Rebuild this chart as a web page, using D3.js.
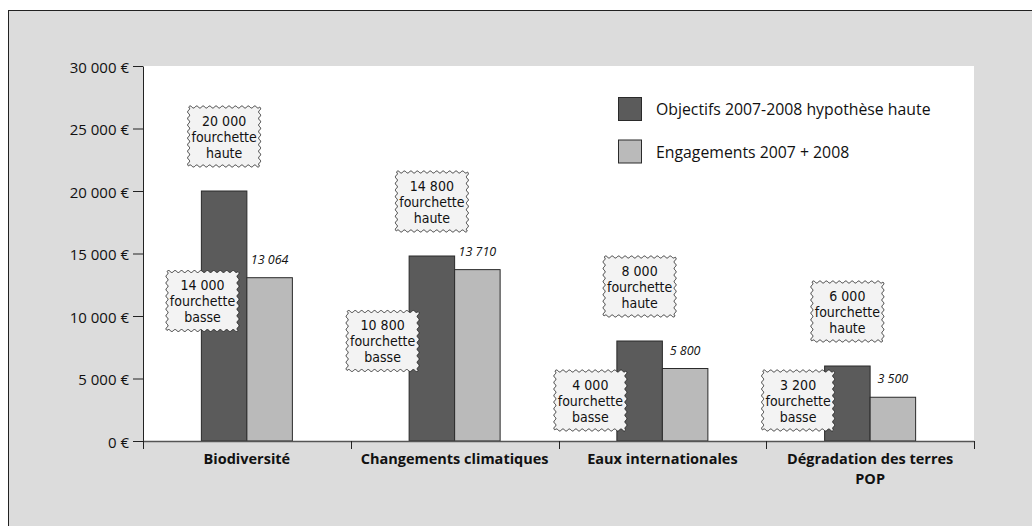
<!DOCTYPE html>
<html>
<head>
<meta charset="utf-8">
<script src="https://cdn.jsdelivr.net/npm/d3@7"></script>
<style>
  html, body { margin: 0; padding: 0; background: #ffffff; }
  svg { display: block; }
</style>
</head>
<body>
<svg id="chart" width="1032" height="526"></svg>
<script>
// ---- data ----
const categories = ["Biodiversité", "Changements climatiques", "Eaux internationales", "Dégradation des terres POP"];
const categoryLines = [["Biodiversité"], ["Changements climatiques"], ["Eaux internationales"], ["Dégradation des terres", "POP"]];
const series = ["Objectifs 2007-2008 hypothèse haute", "Engagements 2007 + 2008"];
const objectifs = [20000, 14800, 8000, 6000];          // fourchette haute
const engagements = [13064, 13710, 5800, 3500];
const fourchetteBasse = [14000, 10800, 4000, 3200];
const yTicks = [0, 5000, 10000, 15000, 20000, 25000, 30000];

// ---- layout ----
const W = 1032, H = 526;
const plot = { left: 143, right: 974, top: 66, bottom: 441 };
const colors = ["#5b5b5b", "#bababa"];
const FONT = "'Open Sans', 'Noto Sans', sans-serif";
const NARROW = "'Liberation Sans Narrow', 'DejaVu Sans Condensed', sans-serif";

const svg = d3.select("#chart");

const loc = d3.formatLocale({ decimal: ",", thousands: "\u00a0", grouping: [3], currency: ["", "\u00a0€"] });
const fmtNum = loc.format(",");
const fmtEur = v => fmtNum(v) + "\u00a0€";

// outer frame
svg.append("rect").attr("x", 8.5).attr("y", 10.5).attr("width", W).attr("height", H)
  .attr("fill", "#dcdcdc").attr("stroke", "#222").attr("stroke-width", 1);

// plot background
svg.append("rect").attr("x", plot.left).attr("y", plot.top)
  .attr("width", plot.right - plot.left).attr("height", plot.bottom - plot.top)
  .attr("fill", "#ffffff");

const y = d3.scaleLinear().domain([0, 30000]).range([plot.bottom, plot.top]);
const x0 = d3.scaleBand().domain(categories).range([plot.left, plot.right]).padding(0);
const barW = 45.5;
const x1 = d3.scaleBand().domain(series)
  .range([x0.bandwidth() / 2 - barW, x0.bandwidth() / 2 + barW]).padding(0);

const valuesBySeries = [objectifs, engagements];

// bars
const g = svg.append("g");
categories.forEach((c, i) => {
  series.forEach((s, j) => {
    const v = valuesBySeries[j][i];
    g.append("rect")
      .attr("x", x0(c) + x1(s))
      .attr("y", y(v))
      .attr("width", x1.bandwidth())
      .attr("height", y(0) - y(v))
      .attr("fill", colors[j])
      .attr("stroke", "#2a2a2a")
      .attr("stroke-width", 1);
  });
});

// axes
const yAxis = d3.axisLeft(y).tickValues(yTicks).tickSize(10).tickSizeOuter(0).tickFormat(fmtEur);
const yg = svg.append("g").attr("transform", `translate(${plot.left},0)`).call(yAxis);
yg.selectAll("path.domain").attr("stroke", "#222");
yg.selectAll(".tick line").attr("stroke", "#222");
yg.selectAll(".tick text").attr("font-family", FONT).attr("font-size", 15).attr("fill", "#111").attr("dx", -1).attr("dy", "0.4em");

// x axis line
svg.append("line").attr("x1", plot.left).attr("x2", plot.right)
  .attr("y1", y(0) + 0.5).attr("y2", y(0) + 0.5).attr("stroke", "#555").attr("stroke-width", 1.5);
// y axis extension below baseline and boundary ticks
const boundaries = categories.map(c => x0(c)).concat([x0(categories[categories.length - 1]) + x0.bandwidth()]);
boundaries.forEach(bx => {
  svg.append("line").attr("x1", Math.round(bx) + 0.5).attr("x2", Math.round(bx) + 0.5)
    .attr("y1", y(0)).attr("y2", y(0) + 8).attr("stroke", "#222");
});

// category labels
categories.forEach((c, i) => {
  const t = svg.append("text")
    .attr("x", x0(c) + x0.bandwidth() / 2)
    .attr("y", y(0) + 23)
    .attr("text-anchor", "middle")
    .attr("font-family", FONT).attr("font-weight", "bold").attr("font-size", 14.5).attr("fill", "#111");
  categoryLines[i].forEach((line, k) => {
    t.append("tspan").attr("x", x0(c) + x0.bandwidth() / 2).attr("dy", k === 0 ? 0 : 20).text(line);
  });
});

// value labels on light bars
categories.forEach((c, i) => {
  svg.append("text")
    .attr("x", x0(c) + x1(series[1]) + x1.bandwidth() / 2)
    .attr("y", y(engagements[i]) - 14)
    .attr("text-anchor", "middle")
    .attr("font-family", FONT).attr("font-style", "italic").attr("font-size", 12.5).attr("fill", "#111")
    .text(fmtNum(engagements[i]));
});

// wavy callout box path
function wavyRect(x, yy, w, h) {
  const amp = 1.0, wl = 6.5, step = 0.5;
  const pts = [];
  const edge = (ax, ay, bx, by, nx, ny) => {
    const len = Math.hypot(bx - ax, by - ay);
    const n = Math.max(1, Math.round(len / wl));
    const wavel = len / n;
    for (let t = 0; t < len; t += step) {
      const f = t / len;
      const o = amp * Math.sin(2 * Math.PI * t / wavel);
      pts.push([ax + (bx - ax) * f + nx * o, ay + (by - ay) * f + ny * o]);
    }
  };
  edge(x, yy, x + w, yy, 0, -1);
  edge(x + w, yy, x + w, yy + h, 1, 0);
  edge(x + w, yy + h, x, yy + h, 0, 1);
  edge(x, yy + h, x, yy, -1, 0);
  return "M" + pts.map(p => p[0].toFixed(2) + "," + p[1].toFixed(2)).join("L") + "Z";
}

const boxW = 71, boxH = 59;
function callout(cx, cy, lines) {
  svg.append("path").attr("d", wavyRect(cx - boxW / 2, cy - boxH / 2, boxW, boxH))
    .attr("fill", "#f3f3f3").attr("stroke", "#222").attr("stroke-width", 0.9);
  const t = svg.append("text").attr("text-anchor", "middle")
    .attr("font-family", NARROW).attr("font-size", 14).attr("fill", "#111");
  lines.forEach((l, k) => {
    t.append("tspan").attr("x", cx).attr("y", cy + 5 + (k - 1) * 16).text(l);
  });
}

categories.forEach((c, i) => {
  const darkX = x0(c) + x1(series[0]);
  // fourchette haute: above dark bar
  const hcx = darkX + x1.bandwidth() / 2;
  const hcy = y(objectifs[i]) - 25 - boxH / 2;
  callout(hcx, hcy, [fmtNum(objectifs[i]), "fourchette", "haute"]);
  // fourchette basse: overlapping the left edge of the dark bar
  let right = darkX + 9;
  let left = Math.max(right - boxW, plot.left + 24);
  const bcx = left + boxW / 2;
  const bcy = Math.min(y(fourchetteBasse[i]) + 35, y(0) - 40.5);
  callout(bcx, bcy, [fmtNum(fourchetteBasse[i]), "fourchette", "basse"]);
});

// legend
series.forEach((s, j) => {
  const ly = 97 + j * 42.5;
  svg.append("rect").attr("x", 618.5).attr("y", ly + 0.5).attr("width", 23).attr("height", 23)
    .attr("fill", colors[j]).attr("stroke", "#2a2a2a").attr("stroke-width", 1);
  svg.append("text").attr("x", 656).attr("y", ly + 18)
    .attr("font-family", FONT).attr("font-size", 15.8).attr("fill", "#111").text(s);
});
</script>
</body>
</html>
